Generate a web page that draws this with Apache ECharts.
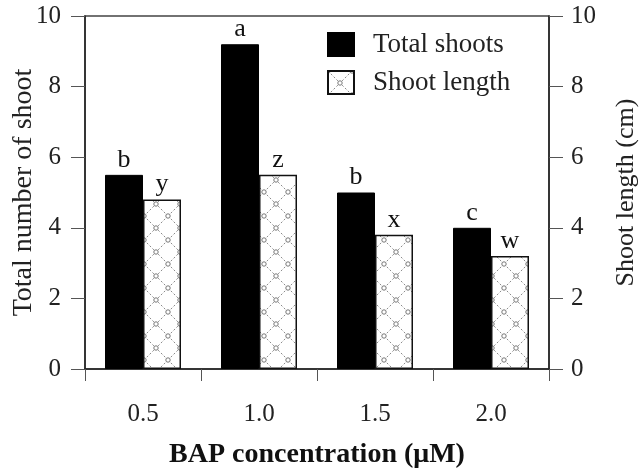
<!DOCTYPE html>
<html>
<head>
<meta charset="utf-8">
<script src="https://cdn.jsdelivr.net/npm/echarts@6/dist/echarts.min.js"></script>
<style>
  html, body { margin: 0; padding: 0; background: #fff; }
  #main { width: 641px; height: 468px; }
</style>
</head>
<body>
<div id="main"></div>
<script>
// data
var categories = ['0.5', '1.0', '1.5', '2.0'];
var totalShoots = [5.5, 9.2, 5.0, 4.0];
var shootLength = [4.8, 5.5, 3.8, 3.2];
var totalLetters = ['b', 'a', 'b', 'c'];
var lengthLetters = ['y', 'z', 'x', 'w'];

var serif = "'Liberation Serif', 'Times New Roman', serif";

// dotted cross-hatch with little rings at the crossings
function makePattern() {
  var c = document.createElement('canvas');
  c.width = 24;
  c.height = 24;
  var ctx = c.getContext('2d');
  ctx.fillStyle = '#fff';
  ctx.fillRect(0, 0, 24, 24);
  ctx.strokeStyle = '#8a8a8a';
  ctx.lineWidth = 1;
  ctx.setLineDash([2, 2]);
  ctx.beginPath();
  ctx.moveTo(0, 0); ctx.lineTo(24, 24);
  ctx.moveTo(24, 0); ctx.lineTo(0, 24);
  ctx.stroke();
  ctx.setLineDash([]);
  var pts = [[0, 0], [24, 0], [0, 24], [24, 24], [12, 12]];
  pts.forEach(function (p) {
    ctx.beginPath();
    ctx.arc(p[0], p[1], 2.2, 0, Math.PI * 2);
    ctx.fillStyle = '#fff';
    ctx.fill();
    ctx.strokeStyle = '#777';
    ctx.stroke();
  });
  return c;
}

var chart = echarts.init(document.getElementById('main'));

var yAxisCommon = {
  type: 'value',
  min: 0,
  max: 10,
  interval: 2,
  nameLocation: 'middle',
  nameRotate: 90,
  nameMoveOverlap: false,
  axisLine: { show: true, lineStyle: { color: '#222', width: 1.5 } },
  axisTick: { show: true, length: 14, lineStyle: { color: '#555' } },
  splitLine: { show: false }
};

var option = {
  backgroundColor: '#fff',
  animation: false,
  grid: {
    left: 85, right: 92, top: 16, bottom: 99,
    outerBoundsMode: 'none',
    containLabel: false,
    show: true, borderColor: '#444', borderWidth: 1.5, backgroundColor: 'transparent'
  },
  legend: {
    orient: 'vertical',
    left: 322,
    top: 26,
    icon: 'rect',
    itemWidth: 26,
    itemHeight: 23,
    itemGap: 11,
    data: ['Total shoots', 'Shoot length'],
    textStyle: { fontFamily: serif, fontSize: 27, color: '#222', lineHeight: 24, padding: [0, 0, 0, 14] }
  },
  xAxis: {
    type: 'category',
    data: categories,
    name: 'BAP concentration (\u03bcM)',
    nameLocation: 'middle',
    nameGap: 72,
    nameMoveOverlap: false,
    nameTextStyle: { fontFamily: serif, fontSize: 28, fontWeight: 'bold', color: '#111' },
    axisLine: { lineStyle: { color: '#222', width: 1.5 } },
    axisTick: { show: true, length: 12, alignWithLabel: false, lineStyle: { color: '#555' } },
    axisLabel: { fontFamily: serif, fontSize: 25, color: '#222', margin: 33 }
  },
  yAxis: [
    Object.assign({}, yAxisCommon, {
      name: 'Total number of shoot', nameGap: 47, position: 'left',
      nameTextStyle: { fontFamily: serif, fontSize: 28, color: '#222' },
      axisLabel: { fontFamily: serif, fontSize: 25, color: '#222', margin: 24 }
    }),
    Object.assign({}, yAxisCommon, {
      name: 'Shoot length (cm)', nameGap: 64, position: 'right',
      nameTextStyle: { fontFamily: serif, fontSize: 26, color: '#222' },
      axisLabel: { fontFamily: serif, fontSize: 25, color: '#222', margin: 22 }
    })
  ],
  series: [
    {
      name: 'Total shoots',
      type: 'bar',
      yAxisIndex: 0,
      data: totalShoots,
      barWidth: 38,
      barGap: '0%',
      itemStyle: { color: '#000', borderColor: '#000', borderWidth: 1 },
      label: {
        show: true, position: 'top', distance: 2,
        fontFamily: serif, fontSize: 26, color: '#111',
        formatter: function (p) { return totalLetters[p.dataIndex]; }
      }
    },
    {
      name: 'Shoot length',
      type: 'bar',
      yAxisIndex: 1,
      data: shootLength,
      barWidth: 38,
      barGap: '0%',
      itemStyle: {
        color: { image: makePattern(), repeat: 'repeat' },
        borderColor: '#111',
        borderWidth: 1.5
      },
      label: {
        show: true, position: 'top', distance: 2,
        fontFamily: serif, fontSize: 26, color: '#111',
        formatter: function (p) { return lengthLetters[p.dataIndex]; }
      }
    }
  ]
};

chart.setOption(option);
</script>
</body>
</html>
